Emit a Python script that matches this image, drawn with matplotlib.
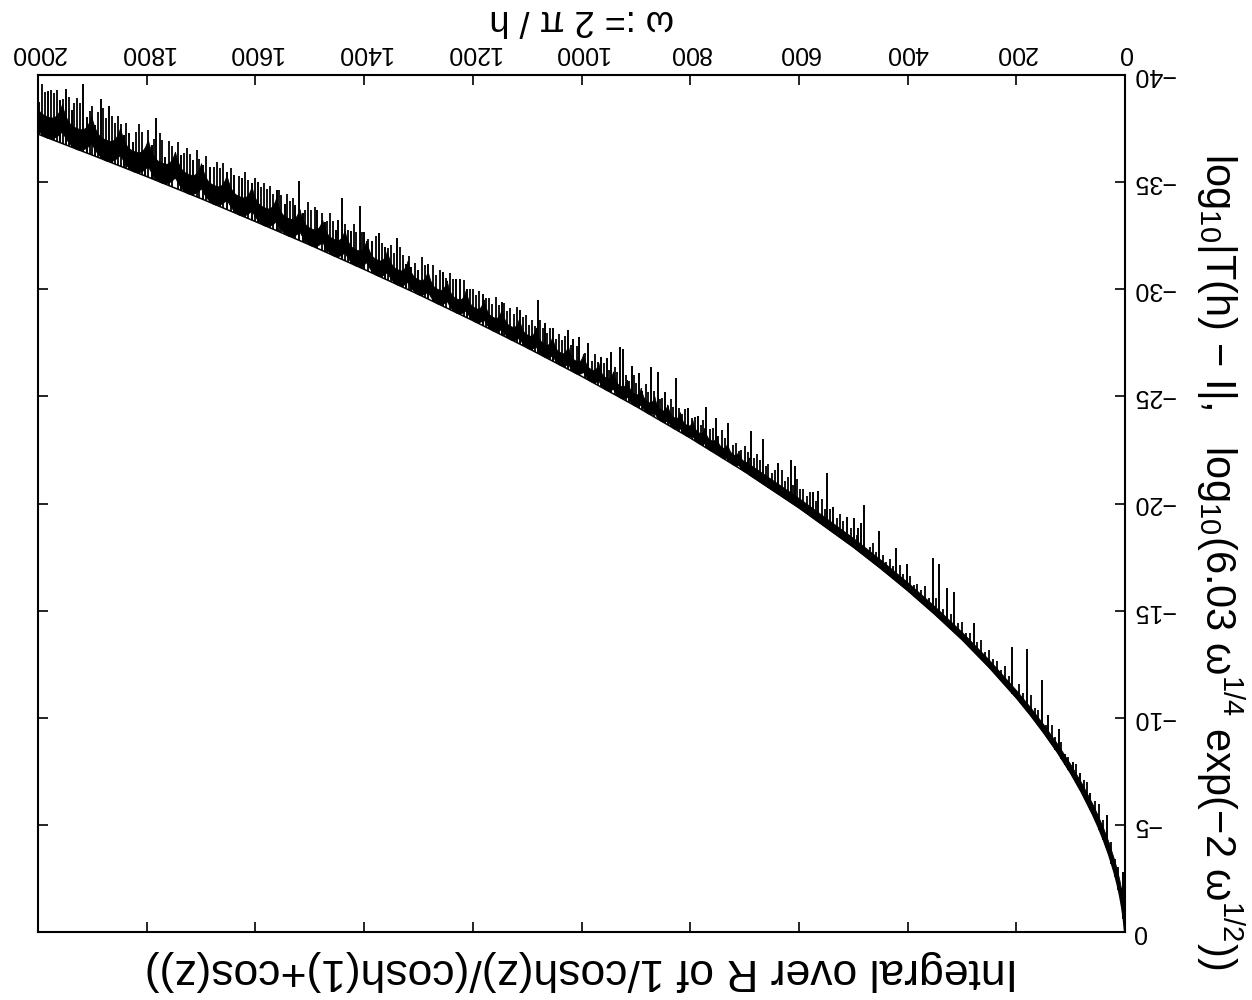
import numpy as np
import matplotlib
matplotlib.use("Agg")
import matplotlib.pyplot as plt

plt.rcParams["font.family"] = ["Liberation Sans", "DejaVu Sans"]
plt.rcParams["mathtext.fontset"] = "custom"
plt.rcParams["mathtext.rm"] = "Liberation Sans"
plt.rcParams["mathtext.it"] = "Liberation Sans:italic"
plt.rcParams["mathtext.default"] = "regular"

# ---------------- data ----------------
title_text = "Integral over R of 1/cosh(z)/(cosh(1)+cos(z))"
xlabel_text = "ω := 2 π / h"
ylabel_text = "log$_{10}$|T(h) − I|,   log$_{10}$(6.03 ω$^{1/4}$ exp(−2 ω$^{1/2}$))"

x_ticks = [0, 200, 400, 600, 800, 1000, 1200, 1400, 1600, 1800, 2000]
y_ticks = [0, -5, -10, -15, -20, -25, -30, -35, -40]

# smooth bound curve
omega_fit = [0, 1, 3, 6, 10, 15, 20, 30, 40, 50, 60, 80, 100, 125, 150, 175, 200,
             250, 300, 350, 400, 450, 500, 600, 700, 800, 900, 1000, 1100, 1200,
             1300, 1400, 1500, 1600, 1700, 1800, 1900, 2000]
log_fit = [0.0, -0.09, -0.61, -1.15, -1.72, -2.29, -2.78, -3.61, -4.31, -4.94, -5.50,
           -6.51, -7.41, -8.41, -9.31, -10.15, -10.93, -12.35, -13.65, -14.83, -15.94,
           -16.98, -17.97, -19.80, -21.49, -23.06, -24.54, -25.94, -27.27, -28.54,
           -29.76, -30.93, -32.07, -33.16, -34.23, -35.26, -36.26, -37.24]

# scallop cusps of the error band (omega positions)
cusp_omega = [692, 711, 732, 752, 774, 796, 819, 842, 866, 891, 916, 942, 969, 997,
              1025, 1054, 1084, 1115, 1147, 1180, 1213, 1248, 1283, 1320, 1358, 1396,
              1436, 1477, 1519, 1562, 1607, 1653, 1700, 1748, 1798, 1849, 1902, 1956, 2012]
# depth of the dense band below the bound (log10 units)
shape_omega = [650, 900, 1200, 1500, 1800, 2000]
cusp_gap = [0.10, 0.22, 0.32, 0.42, 0.52, 0.58]
cusp_top = [0.75, 1.00, 1.25, 1.45, 1.75, 1.85]
cup_top = [0.45, 0.55, 0.65, 0.80, 0.95, 1.00]
thin_omega = [0, 5, 20, 50, 100, 200, 300, 400, 500, 600, 700]
thin_depth = [0.0, 0.7, 0.6, 0.5, 0.4, 0.35, 0.35, 0.38, 0.42, 0.45, 0.50]

# tall downward spikes of log10|T(h)-I|
spike_omega = [1998, 1981, 1960, 1949, 1938, 1917, 1910, 1895, 1884, 1869, 1842, 1833,
               1825, 1803, 1791, 1782, 1766, 1736, 1714, 1696, 1684, 1653, 1639, 1625,
               1607, 1595, 1561, 1546, 1527, 1519,
               1512, 1486, 1472, 1452, 1448, 1441, 1425, 1408, 1400, 1386, 1372, 1362,
               1339, 1323, 1313, 1300, 1282, 1255, 1230, 1224, 1211, 1182, 1147, 1114,
               1080, 1067, 1053, 1024, 1015, 1004,
               988, 965, 954, 946, 929, 924, 908, 894, 872, 860, 846, 826, 804, 785,
               771, 753, 730, 688, 666, 638, 615, 607, 574, 564, 548, 537, 512, 491,
               499, 486, 480, 452, 421, 401, 354, 342, 328, 315, 278, 207, 181, 153,
               141, 121, 96, 83, 64, 34, 3]
spike_log = [-38.75, -39.24, -38.82, -39.34, -38.36, -39.56, -38.05, -37.66, -38.87,
             -38.56, -37.19, -37.27, -36.88, -36.41, -36.72, -37.97, -36.18, -36.26,
             -36.02, -35.79, -35.71, -35.48, -35.32, -35.17, -34.94, -35.01, -34.62,
             -34.00, -33.92, -35.04,
             -33.54, -33.72, -33.15, -32.76, -33.22, -34.24, -32.73, -33.88, -32.68,
             -32.24, -32.63, -31.98, -32.37, -31.20, -31.05, -30.89, -31.17, -30.81,
             -30.46, -30.46, -30.03, -29.76, -29.41, -29.02, -29.49, -28.43, -28.17,
             -28.09, -27.70, -27.78,
             -27.47, -26.85, -26.77, -27.08, -27.31, -27.19, -26.41, -26.07, -26.35,
             -26.15, -25.21, -25.84, -24.48, -24.08, -24.51, -23.97, -23.74, -23.39,
             -22.99, -21.87, -22.03, -21.75, -20.55, -20.59, -21.43, -19.85, -19.38,
             -18.84,
             -19.30, -19.07, -19.93, -18.73, -17.90, -17.17, -17.47, -17.16, -16.04,
             -15.88, -14.40, -13.31, -13.19, -11.76, -10.13, -9.46, -7.95, -7.41,
             -6.47, -5.46, -2.81]

# short dense spikes ("hairs"): omega and depth below the bound
hair_omega = [6, 12, 18, 25, 40, 47, 55, 70, 76, 90,
              104, 110, 117, 128, 135, 146, 160, 166, 173, 188, 195, 214, 221, 228,
              236, 243, 251, 258, 265, 272, 285, 292, 300, 307, 321, 335, 348, 361,
              368, 375, 382, 389, 395, 408, 414, 427, 433, 440, 446, 458, 464, 470,
              493, 505,
              518, 524, 530, 543, 552, 558, 569, 580, 586, 592, 598, 603, 611, 620,
              626, 632, 644, 650, 656, 661, 672, 677, 683, 694, 700, 706, 716, 722,
              736, 742, 748, 758, 764, 776, 781, 791, 797, 809, 815, 820, 831, 836,
              841, 851, 856, 866, 877, 882, 888, 899, 903, 913, 918, 934, 939, 950,
              959, 970, 975, 980, 993,
              1008, 1019, 1030, 1036, 1042, 1047, 1058, 1063, 1071, 1076, 1086, 1091,
              1097, 1103, 1108, 1119, 1125, 1131, 1137, 1142, 1152, 1158, 1164, 1170,
              1176, 1188, 1194, 1200, 1206, 1217, 1236, 1242, 1249, 1261, 1267, 1273,
              1288, 1294, 1306, 1318, 1329, 1334, 1345, 1351, 1356, 1367, 1378, 1392,
              1404, 1414, 1419, 1430, 1436, 1458, 1463, 1468, 1478, 1491, 1497, 1503,
              1508, 1531, 1536, 1541, 1552, 1557, 1567, 1573, 1579, 1585, 1590, 1601,
              1613, 1619, 1631, 1645, 1659, 1665, 1671, 1677, 1690, 1703, 1708, 1720,
              1726, 1731, 1742, 1753, 1759, 1771, 1776, 1787, 1797, 1809, 1815, 1820,
              1838, 1847, 1853, 1858, 1863, 1875, 1880, 1890, 1900, 1905, 1922, 1928,
              1933, 1943, 1954, 1965, 1970, 1976, 1987, 1993]
hair_depth = [0.9, 1.1, 0.8, 1.0, 0.9, 1.2, 0.9, 1.0, 0.8, 0.9,
              0.6, 0.5, 0.8, 0.6, 0.9, 0.5, 0.7, 0.6, 1.0, 0.6, 0.8, 0.6, 0.9, 0.5,
              0.7, 0.6, 0.8, 0.5, 0.9, 0.6, 0.7, 0.5, 0.8, 0.6, 0.7, 0.6, 0.8, 0.5,
              0.9, 0.6, 0.7, 0.5, 0.8, 0.6, 0.9, 0.6, 0.8, 0.5, 0.7, 0.6, 0.9, 0.6,
              0.7, 0.8,
              0.9, 1.1, 0.8, 1.0, 0.8, 1.2, 0.9, 1.1, 0.8, 1.0, 0.9, 1.3, 0.9, 1.1,
              0.8, 1.2, 1.0, 0.8, 1.1, 0.9, 1.0, 1.2, 0.9, 1.0, 1.2, 0.9, 1.1, 0.9,
              1.0, 1.3, 0.9, 1.1, 1.0, 1.2, 0.9, 1.1, 1.0, 1.2, 0.9, 1.1, 1.0, 1.3,
              0.9, 1.1, 1.0, 1.2, 1.0, 1.3, 0.9, 1.1, 1.4, 1.0, 1.2, 1.1, 1.3, 1.0,
              1.2, 1.1, 1.4, 1.0, 1.2,
              1.3, 1.2, 1.5, 1.2, 1.4, 1.1, 1.5, 1.2, 1.3, 1.6, 1.2, 1.4, 1.1, 1.5,
              1.35, 1.65, 1.25, 1.45, 1.25, 1.55, 1.35, 1.65, 1.25, 1.45, 1.35, 1.55, 1.25, 1.45,
              1.4, 1.7, 1.5, 1.7, 1.4, 1.6, 1.3, 1.7, 1.5, 1.8, 1.4, 1.6, 1.5, 1.8,
              1.4, 1.7, 1.5, 1.6, 1.8, 1.5, 1.7, 1.6, 1.9, 1.5, 1.7, 1.6, 1.9, 1.5,
              1.75, 1.85, 1.65, 1.95, 1.55, 1.85, 1.65, 1.95, 1.75, 1.95, 1.65, 1.95, 1.75, 1.95,
              1.7, 2.0, 1.8, 2.1, 1.8, 2.0, 2.1, 1.8, 2.0, 1.7, 2.1, 1.8, 2.2, 1.9,
              2.1, 1.8, 2.2, 1.9, 2.1, 2.0, 2.3, 1.9, 2.2, 2.0, 2.3, 1.9, 2.1, 2.0,
              2.3, 1.9, 2.2, 2.0, 2.4, 2.1, 2.3, 2.0, 2.2, 2.4, 2.1, 2.3, 2.1, 2.4,
              2.2, 2.3, 2.1, 2.4]

# ---------------- figure ----------------
fig = plt.figure(figsize=(12.52, 10), dpi=100)
ax = fig.add_axes([38 / 1252, 68 / 1000, 1087 / 1252, 857 / 1000])

grid = np.linspace(0, 2000, 8001)
fit_g = np.interp(grid, omega_fit, log_fit)
c = np.array(cusp_omega, dtype=float)
idx = np.searchsorted(c, grid, side="right") - 1
valid = (idx >= 0) & (idx < len(c) - 1)
lo_lift = np.zeros_like(grid)
hi_lift = np.interp(grid, thin_omega, thin_depth)
i = idx[valid]
gv = grid[valid]
p = (gv - c[i]) / (c[i + 1] - c[i])
u = np.abs(2 * p - 1)
gap = np.interp(gv, shape_omega, cusp_gap)
tc = np.interp(gv, shape_omega, cusp_top)
tm = np.interp(gv, shape_omega, cup_top)
lo_lift[valid] = gap * u ** 2
hi_lift[valid] = tm + (tc - tm) * u ** 3

ax.fill_between(grid, fit_g - hi_lift, fit_g - lo_lift, color="black", lw=0.6)

n_hair = min(len(hair_omega), len(hair_depth))
hair_w = np.array(hair_omega[:n_hair], dtype=float)
hair_d = np.array(hair_depth[:n_hair], dtype=float)
hair_base = np.interp(hair_w, omega_fit, log_fit)
ax.vlines(hair_w, hair_base, hair_base - hair_d, colors="black", lw=1.3)
sp_base = np.interp(spike_omega, omega_fit, log_fit)
ax.vlines(spike_omega, sp_base, spike_log, colors="black", lw=1.4)
ax.plot(omega_fit, log_fit, color="black", lw=1.1)

ax.set_xlim(2000, 0)
ax.set_ylim(0, -40)
ax.set_xticks(x_ticks)
ax.set_yticks(y_ticks)
ax.tick_params(axis="both", direction="in", length=7, width=1.2,
               top=True, bottom=True, left=True, right=True,
               labeltop=True, labelbottom=False, labelleft=False, labelright=True,
               labelsize=18)
ax.tick_params(axis="x", pad=7)
ax.tick_params(axis="y", pad=5)
for lab in ax.get_xticklabels():
    lab.set_rotation(180)
for lab in ax.get_yticklabels():
    lab.set_rotation(180)
    lab.set_va("center")
for s in ax.spines.values():
    s.set_linewidth(1.5)

fig.text(581.5 / 1252, 1 - 970 / 1000, title_text, rotation=180, ha="center",
         va="center", fontsize=32)
fig.text(581.5 / 1252, 1 - 20 / 1000, xlabel_text, rotation=180, ha="center",
         va="center", fontsize=26)
fig.text(1220 / 1252, 1 - 561 / 1000, ylabel_text, rotation=270, ha="center",
         va="center", fontsize=30)

fig.savefig("out.png", dpi=100)
